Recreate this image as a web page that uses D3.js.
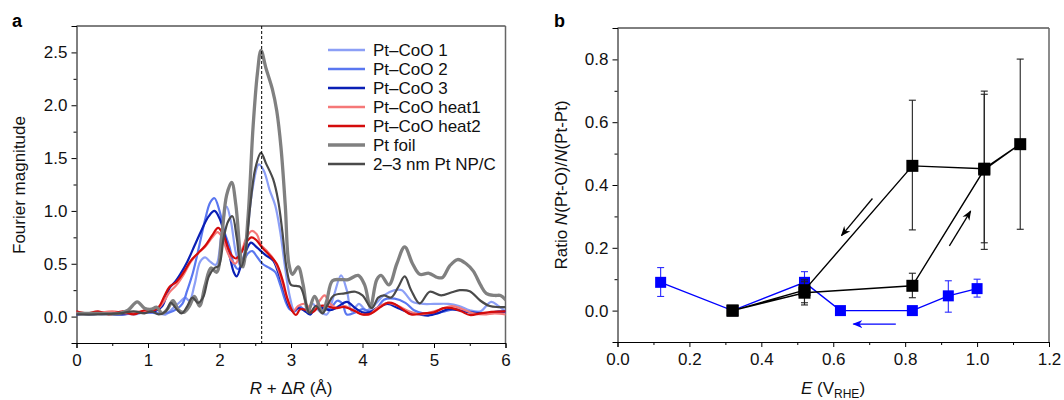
<!DOCTYPE html>
<html><head><meta charset="utf-8">
<script src="https://cdn.jsdelivr.net/npm/d3@7"></script>
<style>
body{margin:0;background:#fff;}
svg{font-family:"Liberation Sans",Arial,Helvetica,sans-serif;}
</style></head><body>
<svg id="c" width="1064" height="400"></svg>
<script>
// ---------- Panel a data: [R+ΔR (Å), Fourier magnitude] ----------
const seriesNames = ["Pt\u2013CoO 1","Pt\u2013CoO 2","Pt\u2013CoO 3","Pt\u2013CoO heat1","Pt\u2013CoO heat2","Pt foil","2\u20133 nm Pt NP/C"];
const seriesColors = ["#8c9ff6","#5a77f0","#0a1fb5","#f57878","#d40b0b","#808080","#4a4a4a"];
const seriesWidths = [2.2,2.2,2.2,2.2,2.2,3.3,2.2];

const ptCoO1 = [[0,0.02],[0.2,0.03],[0.4,0.02],[0.6,0.04],[0.8,0.02],[1.0,0.05],[1.15,0.03],[1.25,0.02],[1.35,0.08],[1.45,0.14],[1.52,0.18],[1.58,0.15],[1.65,0.3],[1.73,0.52],[1.8,0.56],[1.87,0.52],[1.95,0.49],[2.03,0.8],[2.1,1.04],[2.16,0.9],[2.23,0.6],[2.3,0.47],[2.38,0.75],[2.46,1.2],[2.55,1.44],[2.62,1.38],[2.7,1.2],[2.78,1.05],[2.85,0.8],[2.92,0.45],[2.98,0.2],[3.05,0.05],[3.12,0.1],[3.2,0.05],[3.3,0.12],[3.4,0.05],[3.5,0.02],[3.6,0.2],[3.7,0.39],[3.78,0.25],[3.85,0.05],[3.95,0.12],[4.05,0.06],[4.15,0.1],[4.3,0.2],[4.45,0.25],[4.55,0.25],[4.7,0.14],[4.85,0.12],[5.0,0.12],[5.2,0.12],[5.35,0.1],[5.5,0.06],[5.65,0.05],[5.8,0.14],[5.9,0.1],[6.0,0.05]];
const ptCoO2 = [[0,0.03],[0.2,0.02],[0.4,0.03],[0.6,0.02],[0.8,0.03],[1.0,0.04],[1.15,0.03],[1.3,0.04],[1.4,0.07],[1.48,0.12],[1.55,0.25],[1.63,0.42],[1.72,0.68],[1.8,0.92],[1.87,1.08],[1.93,1.12],[2.0,1.0],[2.07,0.8],[2.14,0.66],[2.2,0.5],[2.26,0.45],[2.33,0.52],[2.4,0.6],[2.46,0.62],[2.52,0.57],[2.6,0.5],[2.7,0.46],[2.78,0.42],[2.85,0.3],[2.92,0.15],[2.98,0.07],[3.05,0.05],[3.12,0.09],[3.2,0.06],[3.27,0.02],[3.35,0.1],[3.45,0.07],[3.55,0.08],[3.65,0.15],[3.72,0.12],[3.78,0.02],[3.9,0.04],[4.0,0.07],[4.1,0.05],[4.2,0.08],[4.3,0.16],[4.45,0.17],[4.6,0.13],[4.72,0.06],[4.85,0.03],[5.0,0.03],[5.15,0.05],[5.3,0.07],[5.45,0.05],[5.6,0.04],[5.75,0.03],[5.9,0.05],[6.0,0.04]];
const ptCoO3 = [[0,0.02],[0.3,0.03],[0.6,0.02],[0.9,0.04],[1.1,0.05],[1.2,0.1],[1.3,0.27],[1.38,0.33],[1.45,0.4],[1.55,0.52],[1.65,0.67],[1.75,0.82],[1.85,0.95],[1.93,1.0],[2.0,0.93],[2.08,0.75],[2.15,0.55],[2.2,0.42],[2.24,0.38],[2.3,0.48],[2.37,0.62],[2.44,0.7],[2.5,0.67],[2.58,0.62],[2.65,0.58],[2.75,0.53],[2.82,0.42],[2.9,0.25],[2.97,0.1],[3.03,0.05],[3.1,0.08],[3.18,0.06],[3.27,0.02],[3.35,0.1],[3.45,0.08],[3.55,0.06],[3.65,0.09],[3.78,0.14],[3.9,0.08],[4.0,0.04],[4.1,0.04],[4.2,0.08],[4.35,0.12],[4.5,0.08],[4.65,0.04],[4.8,0.02],[4.92,0.01],[5.05,0.03],[5.2,0.07],[5.35,0.06],[5.5,0.04],[5.7,0.03],[5.85,0.04],[6.0,0.05]];
const ptCoOHeat1 = [[0,0.04],[0.25,0.03],[0.5,0.05],[0.7,0.03],[0.9,0.05],[1.05,0.06],[1.15,0.08],[1.22,0.14],[1.3,0.23],[1.4,0.3],[1.5,0.4],[1.6,0.52],[1.7,0.6],[1.8,0.66],[1.9,0.75],[1.97,0.8],[2.03,0.76],[2.1,0.63],[2.17,0.53],[2.22,0.5],[2.3,0.6],[2.38,0.75],[2.45,0.81],[2.52,0.78],[2.58,0.68],[2.65,0.63],[2.75,0.55],[2.83,0.43],[2.9,0.27],[2.97,0.12],[3.03,0.05],[3.1,0.1],[3.2,0.12],[3.3,0.05],[3.4,0.15],[3.47,0.2],[3.55,0.12],[3.65,0.08],[3.75,0.1],[3.9,0.05],[4.0,0.02],[4.1,0.02],[4.2,0.08],[4.35,0.13],[4.5,0.1],[4.65,0.05],[4.8,0.02],[4.95,0.04],[5.1,0.07],[5.25,0.1],[5.4,0.07],[5.55,0.03],[5.7,0.02],[5.85,0.03],[6.0,0.02]];
const ptCoOHeat2 = [[0,0.05],[0.15,0.03],[0.3,0.05],[0.45,0.02],[0.65,0.05],[0.8,0.02],[0.95,0.06],[1.05,0.05],[1.15,0.09],[1.22,0.18],[1.3,0.28],[1.4,0.33],[1.5,0.42],[1.6,0.53],[1.7,0.6],[1.8,0.67],[1.9,0.77],[1.98,0.84],[2.05,0.78],[2.12,0.65],[2.18,0.57],[2.23,0.55],[2.3,0.6],[2.38,0.71],[2.45,0.75],[2.52,0.72],[2.6,0.65],[2.7,0.58],[2.8,0.5],[2.88,0.35],[2.95,0.17],[3.02,0.05],[3.07,0.015],[3.13,0.07],[3.22,0.06],[3.3,0.04],[3.4,0.1],[3.5,0.1],[3.6,0.08],[3.75,0.09],[3.9,0.05],[4.0,0.02],[4.12,0.03],[4.25,0.09],[4.35,0.13],[4.45,0.12],[4.58,0.06],[4.68,0.02],[4.85,0.03],[5.0,0.04],[5.13,0.08],[5.25,0.08],[5.38,0.05],[5.5,0.015],[5.65,0.03],[5.8,0.045],[6.0,0.05]];
const ptFoil = [[0,0.03],[0.3,0.03],[0.6,0.03],[0.72,0.06],[0.85,0.14],[0.95,0.08],[1.05,0.07],[1.12,0.09],[1.2,0.03],[1.27,0.07],[1.35,0.15],[1.43,0.06],[1.5,0.04],[1.58,0.1],[1.65,0.19],[1.72,0.1],[1.8,0.3],[1.88,0.46],[1.96,0.42],[2.03,0.75],[2.1,1.15],[2.17,1.27],[2.23,1.05],[2.29,0.6],[2.33,0.47],[2.4,0.95],[2.47,1.8],[2.53,2.3],[2.58,2.52],[2.65,2.35],[2.74,2.15],[2.8,1.95],[2.86,1.6],[2.92,1.05],[2.97,0.5],[3.02,0.4],[3.1,0.47],[3.17,0.3],[3.24,0.05],[3.33,0.19],[3.44,0.04],[3.5,0.15],[3.58,0.34],[3.7,0.35],[3.8,0.35],[3.94,0.39],[4.03,0.3],[4.11,0.09],[4.2,0.35],[4.26,0.39],[4.37,0.3],[4.48,0.5],[4.59,0.66],[4.7,0.5],[4.8,0.4],[4.93,0.41],[5.05,0.37],[5.12,0.37],[5.22,0.48],[5.33,0.54],[5.45,0.5],[5.55,0.43],[5.65,0.3],[5.73,0.22],[5.85,0.2],[5.93,0.2],[6.0,0.16]];
const ptNPC = [[0,0.02],[0.3,0.02],[0.6,0.03],[0.8,0.05],[0.95,0.03],[1.05,0.05],[1.15,0.02],[1.25,0.05],[1.32,0.13],[1.4,0.07],[1.47,0.03],[1.55,0.1],[1.62,0.18],[1.7,0.13],[1.77,0.18],[1.85,0.38],[1.93,0.46],[1.99,0.48],[2.06,0.75],[2.12,0.9],[2.18,0.95],[2.24,0.75],[2.3,0.47],[2.36,0.6],[2.43,1.05],[2.5,1.4],[2.58,1.55],[2.65,1.45],[2.75,1.3],[2.82,1.1],[2.88,0.8],[2.94,0.45],[3.0,0.3],[3.07,0.29],[3.13,0.28],[3.2,0.15],[3.26,0.03],[3.35,0.1],[3.44,0.03],[3.52,0.12],[3.6,0.2],[3.75,0.22],[3.9,0.235],[4.0,0.2],[4.13,0.08],[4.22,0.18],[4.3,0.2],[4.4,0.18],[4.5,0.28],[4.59,0.38],[4.68,0.25],[4.8,0.125],[4.94,0.235],[5.1,0.2],[5.25,0.23],[5.36,0.25],[5.5,0.24],[5.65,0.15],[5.78,0.1],[5.9,0.09],[6.0,0.09]];
const seriesData = [ptCoO1, ptCoO2, ptCoO3, ptCoOHeat1, ptCoOHeat2, ptFoil, ptNPC];
const dashedR = 2.59;

const aXTicks = [0,1,2,3,4,5,6];
const aYTicks = [0,0.5,1.0,1.5,2.0,2.5];

// ---------- Panel b data ----------
const blueE     = [0.12, 0.32, 0.52, 0.62, 0.82, 0.92, 1.00];
const blueRatio = [0.090, 0.000, 0.090, 0.000, 0.000, 0.047, 0.070];
const blueLo    = [0.045, null, 0.055, null, null, -0.005, 0.043];
const blueHi    = [0.137, null, 0.124, null, null, 0.095, 0.100];

const blackE     = [0.32, 0.52, 0.82, 1.02, 1.12, 1.02, 0.82, 0.52, 0.32];
const blackRatio = [0.000, 0.057, 0.079, 0.449, 0.530, 0.452, 0.461, 0.065, 0.000];
const blackLo    = [null, 0.018, 0.041, 0.216, 0.259, 0.195, 0.257, 0.025, null];
const blackHi    = [null, 0.098, 0.119, 0.699, 0.801, 0.689, 0.670, 0.092, null];

const arrowFrom  = [[0.709,0.357],[0.923,0.206],[0.774,-0.043]];
const arrowTo    = [[0.623,0.239],[0.982,0.317],[0.656,-0.043]];
const arrowColor = ["#000","#000","#0000ff"];

const bXTicks = [0,0.2,0.4,0.6,0.8,1.0,1.2];
const bYTicks = [0,0.2,0.4,0.6,0.8];

// ---------- drawing ----------
const svg = d3.select("#c");
const FS = 17;

function frame(g, x, y, l, r, t, b) {
  g.append("line").attr("x1",l).attr("x2",r).attr("y1",t).attr("y2",t).attr("stroke","#000").attr("stroke-width",1);
  g.append("line").attr("x1",r).attr("x2",r).attr("y1",t).attr("y2",b).attr("stroke","#666").attr("stroke-width",1.5);
}

function axes(g, x, y, xt, xminor, yt, yminor, xfmt, yfmt, bottom, left) {
  const ax = g.append("g").attr("transform",`translate(0,${bottom})`)
    .call(d3.axisBottom(x).tickValues(xt).tickFormat(xfmt).tickSize(5).tickPadding(6));
  const axm = g.append("g").attr("transform",`translate(0,${bottom})`)
    .call(d3.axisBottom(x).tickValues(xminor).tickFormat("").tickSize(3));
  axm.select(".domain").remove();
  const ay = g.append("g").attr("transform",`translate(${left},0)`)
    .call(d3.axisLeft(y).tickValues(yt).tickFormat(yfmt).tickSize(5).tickPadding(4));
  const aym = g.append("g").attr("transform",`translate(${left},0)`)
    .call(d3.axisLeft(y).tickValues(yminor).tickFormat("").tickSize(3));
  aym.select(".domain").remove();
  g.selectAll(".tick text").attr("font-size",FS).attr("fill","#111").attr("font-family","Liberation Sans, Arial, sans-serif");
  g.selectAll(".domain").attr("stroke","#000");
  g.selectAll(".tick line").attr("stroke","#000");
}

// ===== Panel a =====
const xa = d3.scaleLinear().domain([0,6]).range([76.5,505.5]);
const ya = d3.scaleLinear().domain([-0.25,2.75]).range([343,26]);
const ga = svg.append("g");
frame(ga, xa, ya, 76.5, 505.5, 26, 343);
axes(ga, xa, ya, aXTicks, d3.range(0.5,6,1), aYTicks, d3.range(-0.25,2.8,0.5),
     d3.format("d"), d3.format(".1f"), 343, 76.5);

const line = d3.line().x(d=>xa(d[0])).y(d=>ya(d[1])).curve(d3.curveCatmullRom.alpha(0.5));
const clipA = svg.append("clipPath").attr("id","clipA").append("rect")
  .attr("x",76.5).attr("y",26).attr("width",429).attr("height",317);
const plotA = ga.append("g").attr("clip-path","url(#clipA)");
seriesData.forEach((s,i)=>{
  plotA.append("path").datum(s).attr("d",line).attr("fill","none")
    .attr("stroke",seriesColors[i]).attr("stroke-width",seriesWidths[i])
    .attr("stroke-linejoin","round").attr("stroke-linecap","round");
});
ga.append("line").attr("x1",xa(dashedR)).attr("x2",xa(dashedR)).attr("y1",26).attr("y2",343)
  .attr("stroke","#000").attr("stroke-width",1).attr("stroke-dasharray","3,2");

// legend
const leg = ga.append("g");
seriesNames.forEach((n,i)=>{
  const yy = 50 + i*19;
  leg.append("line").attr("x1",328).attr("x2",365).attr("y1",yy).attr("y2",yy)
    .attr("stroke",seriesColors[i]).attr("stroke-width",i===5?3.5:2.6);
  leg.append("text").attr("x",373).attr("y",yy).attr("dy","0.35em").attr("font-size",FS).attr("fill","#111").text(n);
});

// labels
svg.append("text").attr("x",12).attr("y",27).attr("font-size",18).attr("font-weight","bold").text("a");
svg.append("text").attr("transform","translate(25,185) rotate(-90)").attr("text-anchor","middle")
  .attr("font-size",FS).attr("fill","#111").text("Fourier magnitude");
const xla = svg.append("text").attr("x",291).attr("y",394).attr("text-anchor","middle").attr("font-size",FS).attr("fill","#111");
xla.append("tspan").attr("font-style","italic").text("R");
xla.append("tspan").text(" + \u0394");
xla.append("tspan").attr("font-style","italic").text("R");
xla.append("tspan").text(" (\u00C5)");

// ===== Panel b =====
const xb = d3.scaleLinear().domain([0,1.2]).range([617.5,1049]);
const yb = d3.scaleLinear().domain([-0.1,0.9]).range([342,28]);
const gb = svg.append("g");
frame(gb, xb, yb, 617.5, 1049, 28, 342);
axes(gb, xb, yb, bXTicks, d3.range(0.1,1.2,0.2), bYTicks, d3.range(-0.1,0.95,0.2),
     d3.format(".1f"), d3.format(".1f"), 342, 617.5);

const defs = svg.append("defs");
arrowColor.forEach((c,i)=>{
  defs.append("marker").attr("id","ah"+i).attr("viewBox","0 0 10 10").attr("refX",9).attr("refY",5)
    .attr("markerWidth",10).attr("markerHeight",10).attr("markerUnits","userSpaceOnUse").attr("orient","auto")
    .append("path").attr("d","M0,1 L10,5 L0,9 L3,5 Z").attr("fill",c);
});

function errorBars(g, E, V, lo, hi, color) {
  E.forEach((e,i)=>{
    if (lo[i]===null) return;
    const x = xb(e);
    g.append("line").attr("x1",x).attr("x2",x).attr("y1",yb(lo[i])).attr("y2",yb(hi[i])).attr("stroke",color).attr("stroke-width",1.1);
    [lo[i],hi[i]].forEach(v=>{
      g.append("line").attr("x1",x-3.5).attr("x2",x+3.5).attr("y1",yb(v)).attr("y2",yb(v)).attr("stroke",color).attr("stroke-width",1.1);
    });
  });
}
const lineB = d3.line().x(d=>xb(d[0])).y(d=>yb(d[1]));
const bluePts = blueE.map((e,i)=>[e,blueRatio[i]]);
const blackPts = blackE.map((e,i)=>[e,blackRatio[i]]);

// blue series
errorBars(gb, blueE, blueRatio, blueLo, blueHi, "#2a2aff");
gb.append("path").datum(bluePts).attr("d",lineB).attr("fill","none").attr("stroke","#0000ff").attr("stroke-width",1.4);
gb.selectAll(".bsq").data(bluePts).enter().append("rect")
  .attr("x",d=>xb(d[0])-5.5).attr("y",d=>yb(d[1])-5.5).attr("width",11).attr("height",11).attr("fill","#0000ff");

// black series
errorBars(gb, blackE, blackRatio, blackLo, blackHi, "#222");
gb.append("path").datum(blackPts).attr("d",lineB).attr("fill","none").attr("stroke","#000").attr("stroke-width",1.4);
gb.selectAll(".ksq").data(blackPts).enter().append("rect")
  .attr("x",d=>xb(d[0])-6).attr("y",d=>yb(d[1])-6).attr("width",12).attr("height",12).attr("fill","#000");

// arrows
arrowFrom.forEach((f,i)=>{
  gb.append("line").attr("x1",xb(f[0])).attr("y1",yb(f[1])).attr("x2",xb(arrowTo[i][0])).attr("y2",yb(arrowTo[i][1]))
    .attr("stroke",arrowColor[i]).attr("stroke-width",1.3).attr("marker-end",`url(#ah${i})`);
});

svg.append("text").attr("x",554).attr("y",27).attr("font-size",18).attr("font-weight","bold").text("b");
const ylb = svg.append("text").attr("transform","translate(567,185) rotate(-90)").attr("text-anchor","middle")
  .attr("font-size",FS).attr("fill","#111");
ylb.append("tspan").text("Ratio ");
ylb.append("tspan").attr("font-style","italic").text("N");
ylb.append("tspan").text("(Pt-O)/");
ylb.append("tspan").attr("font-style","italic").text("N");
ylb.append("tspan").text("(Pt-Pt)");
const xlb = svg.append("text").attr("x",833).attr("y",394).attr("text-anchor","middle").attr("font-size",FS).attr("fill","#111");
xlb.append("tspan").attr("font-style","italic").text("E");
xlb.append("tspan").text(" (V");
xlb.append("tspan").attr("font-size",12).attr("dy",4).text("RHE");
xlb.append("tspan").attr("dy",-4).text(")");
</script></body></html>
